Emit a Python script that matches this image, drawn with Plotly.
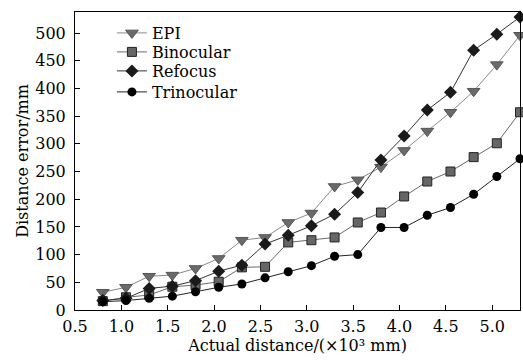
import plotly.graph_objects as go

x_km = [0.8, 1.05, 1.3, 1.55, 1.8, 2.05, 2.3, 2.55, 2.8, 3.05, 3.3, 3.55, 3.8, 4.05, 4.3, 4.55, 4.8, 5.05, 5.3]
epi = [32, 41, 61, 63, 75, 93, 126, 131, 158, 175, 223, 235, 258, 288, 323, 357, 395, 443, 496]
binocular = [16, 23, 27, 42, 45, 51, 77, 78, 122, 126, 131, 158, 176, 205, 232, 250, 276, 301, 357]
refocus = [17, 21, 39, 43, 53, 70, 81, 119, 135, 152, 173, 212, 271, 314, 361, 393, 469, 498, 529]
trinocular = [15, 17, 21, 25, 33, 41, 47, 58, 69, 80, 97, 100, 149, 149, 171, 185, 209, 241, 273]

x_ticks = [0.5, 1.0, 1.5, 2.0, 2.5, 3.0, 3.5, 4.0, 4.5, 5.0]
y_ticks = [0, 50, 100, 150, 200, 250, 300, 350, 400, 450, 500]

FONT = "DejaVu Serif"

fig = go.Figure()
fig.add_trace(go.Scatter(x=x_km, y=epi, name="EPI", mode="lines+markers", legend="legend",
                         cliponaxis=False,
                         line=dict(color="#8a8a8a", width=1),
                         marker=dict(symbol="triangle-down", size=11, color="#6a6a6a",
                                     line=dict(color="#555555", width=1))))
fig.add_trace(go.Scatter(x=x_km, y=binocular, name="Binocular", mode="lines+markers", legend="legend2",
                         cliponaxis=False,
                         line=dict(color="#6a6a6a", width=1),
                         marker=dict(symbol="square", size=9, color="#666666",
                                     line=dict(color="#222222", width=1))))
fig.add_trace(go.Scatter(x=x_km, y=refocus, name="Refocus", mode="lines+markers", legend="legend3",
                         cliponaxis=False,
                         line=dict(color="#333333", width=1),
                         marker=dict(symbol="diamond", size=10, color="#1a1a1a",
                                     line=dict(color="#1a1a1a", width=0))))
fig.add_trace(go.Scatter(x=x_km, y=trinocular, name="Trinocular", mode="lines+markers", legend="legend4",
                         cliponaxis=False,
                         line=dict(color="#222222", width=1),
                         marker=dict(symbol="circle", size=9, color="#000000",
                                     line=dict(width=0))))

axis_common = dict(showline=True, linecolor="black", linewidth=1, mirror=True,
                   ticks="inside", ticklen=5, tickcolor="black", showgrid=False,
                   zeroline=False, automargin=False,
                   tickfont=dict(family=FONT, size=16, color="black"))

fig.update_xaxes(range=[0.5, 5.3], tickvals=x_ticks, ticktext=[f"{v:.1f}" for v in x_ticks],
                 ticklabelstandoff=2,
                 title=dict(text="Actual distance/(×10³ mm)",
                            font=dict(family=FONT, size=16, color="black"),
                            standoff=0),
                 **axis_common)
fig.update_yaxes(range=[0, 538], tickvals=y_ticks, ticklabelstandoff=5,
                 title=dict(text="Distance error/mm", font=dict(family=FONT, size=16, color="black"),
                            standoff=2),
                 **axis_common)

def leg(ypx):
    return dict(x=0.083, y=1 - (ypx - 12) / 298, xanchor="left", yanchor="middle",
                bgcolor="rgba(0,0,0,0)", borderwidth=0,
                font=dict(family=FONT, size=16, color="black"))

fig.update_layout(template="none", width=523, height=360, margin=dict(l=75, r=3, t=12, b=50),
                  plot_bgcolor="white", paper_bgcolor="white",
                  font=dict(family=FONT, color="black"),
                  legend=leg(33), legend2=leg(52), legend3=leg(71), legend4=leg(92),
                  showlegend=True)

fig.write_html("out.html", config={"displayModeBar": False},
               post_script="document.body.style.margin='0';document.body.style.overflow='hidden';")
